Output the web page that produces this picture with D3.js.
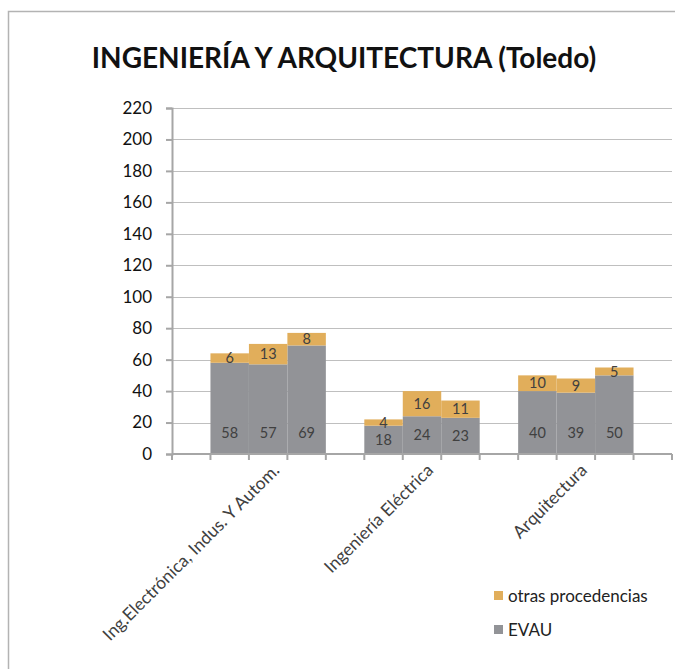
<!DOCTYPE html>
<html>
<head>
<meta charset="utf-8">
<script src="https://cdn.jsdelivr.net/npm/d3@7"></script>
<style>
  body { margin: 0; background: #fff; }
  svg { font-family: Lato, "Open Sans", sans-serif; }
</style>
</head>
<body>
<svg id="chart" width="675" height="669"></svg>
<script>
// data
var categories = ["Ing.Electrónica, Indus. Y Autom.", "Ingeniería Eléctrica", "Arquitectura"];
var evau = [[58, 57, 69], [18, 24, 23], [40, 39, 50]];
var otras = [[6, 13, 8], [4, 16, 11], [10, 9, 5]];
var yTicks = [0, 20, 40, 60, 80, 100, 120, 140, 160, 180, 200, 220];
var seriesNames = ["otras procedencias", "EVAU"];

var grayColor = "#929397";
var orangeColor = "#E1AE5B";
var axisColor = "#a6a6a6";
var textColor = "#404040";

var svg = d3.select("#chart");

// outer frame
svg.append("rect")
  .attr("x", 8.5).attr("y", 11.5)
  .attr("width", 700).attr("height", 700)
  .attr("fill", "none").attr("stroke", "#b3b3b3").attr("stroke-width", 1.5);

svg.append("text")
  .attr("x", 344).attr("y", 68)
  .attr("text-anchor", "middle")
  .attr("font-weight", "bold")
  .attr("font-size", 28)
  .attr("fill", "#111")
  .text("INGENIERÍA Y ARQUITECTURA (Toledo)");

var plotLeft = 172, plotRight = 672, plotTop = 108, plotBottom = 454;

// one slot per bar, plus an empty slot around each group
var slots = [];
categories.forEach(function(c, i) {
  slots.push("gap" + i);
  for (var j = 0; j < 3; j++) slots.push(i + "-" + j);
});
slots.push("gapEnd");

var x = d3.scaleBand().domain(slots).range([plotLeft, plotRight]).padding(0);
var y = d3.scaleLinear().domain([0, 220]).range([plotBottom, plotTop]);

// gridlines
svg.append("g").selectAll("line")
  .data(yTicks.slice(1))
  .enter().append("line")
  .attr("x1", plotLeft).attr("x2", plotRight)
  .attr("y1", function(d) { return Math.round(y(d)) + 0.5; })
  .attr("y2", function(d) { return Math.round(y(d)) + 0.5; })
  .attr("stroke", "#bfbfbf").attr("stroke-width", 1);

// y axis
var yAxis = svg.append("g")
  .attr("transform", "translate(" + plotLeft + ",0)")
  .call(d3.axisLeft(y).tickValues(yTicks).tickSize(6).tickPadding(14));
yAxis.select(".domain").attr("stroke", axisColor).attr("stroke-width", 2);
yAxis.selectAll(".tick line").attr("stroke", axisColor).attr("stroke-width", 2);
yAxis.selectAll(".tick text")
  .attr("font-size", 17).attr("fill", "#111")
  .attr("font-family", "Lato, sans-serif");

// bars
var bars = [];
categories.forEach(function(c, i) {
  for (var j = 0; j < 3; j++) {
    bars.push({ slot: i + "-" + j, evau: evau[i][j], otras: otras[i][j] });
  }
});

var g = svg.append("g");
g.selectAll(".evau")
  .data(bars)
  .enter().append("rect")
  .attr("class", "evau")
  .attr("x", function(d) { return x(d.slot); })
  .attr("width", x.bandwidth())
  .attr("y", function(d) { return y(d.evau); })
  .attr("height", function(d) { return y(0) - y(d.evau); })
  .attr("fill", grayColor);

g.selectAll(".otras")
  .data(bars)
  .enter().append("rect")
  .attr("class", "otras")
  .attr("x", function(d) { return x(d.slot); })
  .attr("width", x.bandwidth())
  .attr("y", function(d) { return y(d.evau + d.otras); })
  .attr("height", function(d) { return y(d.evau) - y(d.evau + d.otras); })
  .attr("fill", orangeColor);

// x axis
var xAxis = svg.append("g")
  .attr("transform", "translate(0," + plotBottom + ")");
xAxis.append("line")
  .attr("x1", plotLeft).attr("x2", plotRight)
  .attr("stroke", axisColor).attr("stroke-width", 2);
xAxis.selectAll(".xt")
  .data(slots.concat(["end"]))
  .enter().append("line")
  .attr("x1", function(d) { return d === "end" ? plotRight : x(d); })
  .attr("x2", function(d) { return d === "end" ? plotRight : x(d); })
  .attr("y1", 0).attr("y2", 6)
  .attr("stroke", axisColor).attr("stroke-width", 2);

// value labels
g.selectAll(".lblE")
  .data(bars)
  .enter().append("text")
  .attr("x", function(d) { return x(d.slot) + x.bandwidth() / 2; })
  .attr("y", function(d) { return Math.max(y(d.evau / 2), y(0) - 21); })
  .attr("dy", "0.35em")
  .attr("text-anchor", "middle")
  .attr("font-size", 14.5).attr("fill", textColor)
  .text(function(d) { return d.evau; });

g.selectAll(".lblO")
  .data(bars)
  .enter().append("text")
  .attr("x", function(d) { return x(d.slot) + x.bandwidth() / 2; })
  .attr("y", function(d) { return y(d.evau + d.otras / 2); })
  .attr("dy", "0.35em")
  .attr("text-anchor", "middle")
  .attr("font-size", 14.5).attr("fill", textColor)
  .text(function(d) { return d.otras; });

// category labels
svg.selectAll(".cat")
  .data(categories)
  .enter().append("text")
  .attr("transform", function(d, i) {
    var cx = x(i + "-1") + x.bandwidth() / 2 + 8;
    return "translate(" + cx + "," + (plotBottom + 13) + ") rotate(-45)";
  })
  .attr("text-anchor", "end")
  .attr("dy", "0.35em")
  .attr("font-size", 17.5).attr("fill", textColor)
  .text(function(d) { return d; });

// legend
var legend = svg.append("g").selectAll("g")
  .data(seriesNames)
  .enter().append("g")
  .attr("transform", function(d, i) { return "translate(494," + (591 + i * 34) + ")"; });
legend.append("rect")
  .attr("width", 9).attr("height", 9)
  .attr("fill", function(d, i) { return i === 0 ? orangeColor : grayColor; });
legend.append("text")
  .attr("x", 14).attr("y", 5).attr("dy", "0.35em")
  .attr("font-size", 17).attr("fill", "#222")
  .text(function(d) { return d; });
</script>
</body>
</html>
